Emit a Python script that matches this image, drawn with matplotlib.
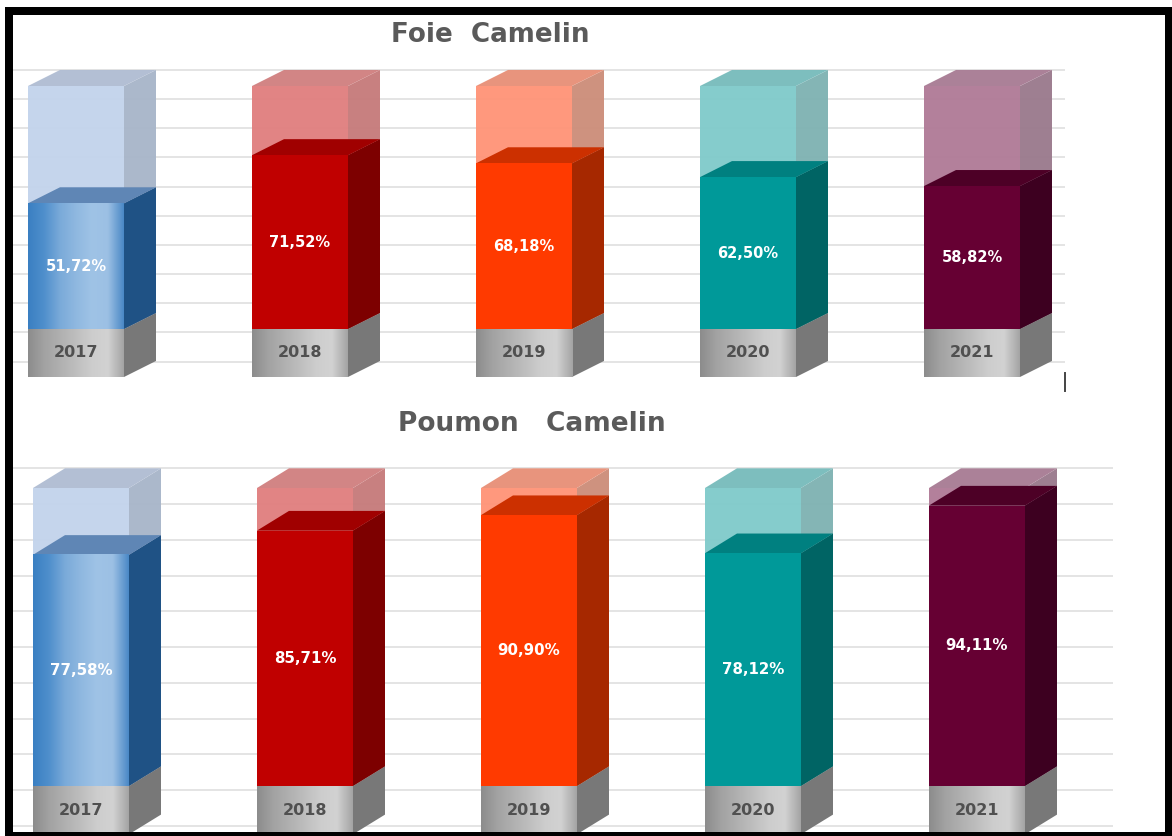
import matplotlib
matplotlib.use('Agg')
import matplotlib.pyplot as plt
import numpy as np
from matplotlib.colors import LinearSegmentedColormap
from matplotlib.lines import Line2D
from matplotlib.patches import Rectangle

W, H = 1172, 836

years = ['2017', '2018', '2019', '2020', '2021']
foie_values = [51.72, 71.52, 68.18, 62.50, 58.82]
poumon_values = [77.58, 85.71, 90.90, 78.12, 94.11]
foie_labels = ['51,72%', '71,52%', '68,18%', '62,50%', '58,82%']
poumon_labels = ['77,58%', '85,71%', '90,90%', '78,12%', '94,11%']
grid_levels = [106.6, 94.6, 82.6, 70.6, 58.6, 46.6, 34.6, 22.6, 10.6, -1.4, -13.4]

front_colors = ['#4f8fca', '#c00000', '#ff3a00', '#009999', '#660033']
side_colors = ['#1f5285', '#7d0000', '#a62800', '#006464', '#3d0020']
top_colors = ['#5f86b5', '#a00000', '#cc3000', '#008080', '#4d0026']
ghost_front = ['#c3d4ec', '#e07f7f', '#ff9478', '#80caca', '#b07b97']
ghost_side = ['#a8b5c9', '#c67b7b', '#cc8e7a', '#7fb2b2', '#9a7a8d']
ghost_top = ['#b0bdd3', '#d08080', '#e89078', '#78bcbc', '#a87c94']

bar_w = 96 / 224
depth_x = 32 / 224
depth_y = 6.6

blue_map = LinearSegmentedColormap.from_list('blue', ['#3a7fc2', '#4f8fcc', '#7aaad9', '#8fb8e0', '#9fc3e6', '#9cc0e4', '#4a88c6'])
gray_map = LinearSegmentedColormap.from_list('gray', ['#8c8c8c', '#a2a2a2', '#b0b0b0', '#bebebe', '#cdcdcd', '#d2d2d2', '#a4a4a4'])
ramp = np.linspace(0, 1, 256).reshape(1, -1)


def draw_box(ax, i, low, high, front, side, top, alpha=1.0, z=2):
    x0 = i - bar_w / 2
    x1 = i + bar_w / 2
    ax.fill([x1, x1 + depth_x, x1 + depth_x, x1],
            [low, low + depth_y, high + depth_y, high], color=side, lw=0, alpha=alpha, zorder=z)
    ax.fill([x0, x0 + depth_x, x1 + depth_x, x1],
            [high, high + depth_y, high + depth_y, high], color=top, lw=0, alpha=alpha, zorder=z)
    if isinstance(front, str):
        ax.fill([x0, x1, x1, x0], [low, low, high, high], color=front, lw=0, alpha=alpha, zorder=z)
    else:
        ax.imshow(ramp, extent=[x0, x1, low, high], aspect='auto', cmap=front, zorder=z)


# one panel, the bars are laid out in data units (category index, percent)
def draw_chart(y_top, y_bottom, y_zero, scale, center, base, grid_end, values, labels, label_size):
    ax = fig.add_axes([13 / W, 1 - y_bottom / H, (1165 - 13) / W, (y_bottom - y_top) / H])
    ax.hlines(grid_levels, (13 - center) / 224, (grid_end - center) / 224, color='#e2e2e2', lw=1.3, zorder=1)
    for i, v in enumerate(values):
        draw_box(ax, i, 0, 100, ghost_front[i], ghost_side[i], ghost_top[i], alpha=0.96, z=2)
        draw_box(ax, i, -base, 0, gray_map, '#787878', '#999999', z=3)
        front = blue_map if i == 0 else front_colors[i]
        draw_box(ax, i, 0, v, front, side_colors[i], top_colors[i], z=4)
        ax.text(i, v / 2, labels[i], color='white', fontsize=label_size, fontweight='bold',
                ha='center', va='center', zorder=6)
        ax.text(i, -base / 2, years[i], color='#505050', fontsize=11.5, fontweight='bold',
                ha='center', va='center', zorder=6)
    ax.set_xlim((13 - center) / 224, (1165 - center) / 224)
    ax.set_ylim((y_zero - y_bottom) / scale, (y_zero - y_top) / scale)
    ax.axis('off')


fig = plt.figure(figsize=(W / 100, H / 100), dpi=100)

draw_chart(50, 400, 329, 2.43, 76, 19.75, 1065, foie_values, foie_labels, 10.5)
draw_chart(440, 833, 786, 2.98, 81, 16.2, 1113, poumon_values, poumon_labels, 10.8)

fig.text(490 / W, 1 - 35 / H, 'Foie  Camelin', color='#5a5a5a', fontsize=18.8, fontweight='bold',
         ha='center', va='center')
fig.text(531.5 / W, 1 - 424 / H, 'Poumon   Camelin', color='#5a5a5a', fontsize=19, fontweight='bold',
         ha='center', va='center')

# stray tick under the first chart
fig.add_artist(Line2D([1065 / W, 1065 / W], [1 - 373 / H, 1 - 391 / H], color='#444444', lw=1.4))

# black frame round the picture
frame = [(5, 7, 8, 829), (5, 7, 1167, 8), (1165, 7, 7, 829), (5, 832, 1167, 4)]
for px, py, pw, ph in frame:
    fig.add_artist(Rectangle((px / W, 1 - (py + ph) / H), pw / W, ph / H, color='black', lw=0,
                             transform=fig.transFigure, zorder=10))

fig.savefig('out.png', dpi=100)
plt.close(fig)
